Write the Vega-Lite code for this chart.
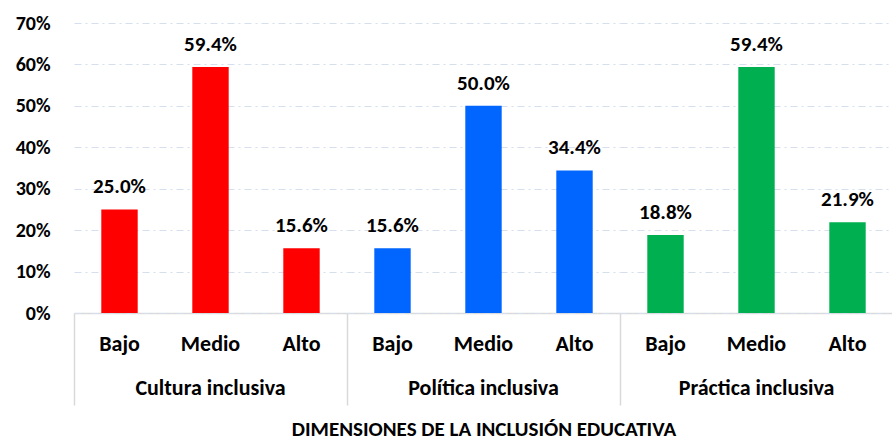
{
  "$schema": "https://vega.github.io/schema/vega-lite/v6.json",
  "background": "white",
  "padding": {"left": 15, "top": 13, "right": 0, "bottom": 0},
  "config": {"font": "Carlito, Lato", "view": {"stroke": null}},
  "data": {
    "values": [
      {"dimension": "Cultura inclusiva", "level": "Bajo", "value": 0.25},
      {"dimension": "Cultura inclusiva", "level": "Medio", "value": 0.594},
      {"dimension": "Cultura inclusiva", "level": "Alto", "value": 0.156},
      {"dimension": "Política inclusiva", "level": "Bajo", "value": 0.156},
      {"dimension": "Política inclusiva", "level": "Medio", "value": 0.5},
      {"dimension": "Política inclusiva", "level": "Alto", "value": 0.344},
      {"dimension": "Práctica inclusiva", "level": "Bajo", "value": 0.188},
      {"dimension": "Práctica inclusiva", "level": "Medio", "value": 0.594},
      {"dimension": "Práctica inclusiva", "level": "Alto", "value": 0.219}
    ]
  },
  "spacing": 0,
  "facet": {
    "column": {
      "field": "dimension",
      "type": "nominal",
      "sort": ["Cultura inclusiva", "Política inclusiva", "Práctica inclusiva"],
      "title": "DIMENSIONES DE LA INCLUSIÓN EDUCATIVA",
      "header": {
        "labelOrient": "bottom",
        "titleOrient": "bottom",
        "labelFont": "Carlito, Lato",
        "labelFontSize": 22,
        "labelFontWeight": "bold",
        "labelColor": "#000000",
        "labelPadding": -28,
        "titleFont": "Carlito, Lato",
        "titleFontSize": 21,
        "titleFontWeight": "bold",
        "titleColor": "#000000",
        "titlePadding": 3
      }
    }
  },
  "spec": {
    "width": 273,
    "height": 290,
    "encoding": {
      "x": {
        "field": "level",
        "type": "nominal",
        "sort": ["Bajo", "Medio", "Alto"],
        "scale": {"paddingInner": 0.6, "paddingOuter": 0.3},
        "axis": {
          "title": null,
          "labelAngle": 0,
          "bandPosition": -0.75,
          "ticks": true,
          "tickSize": 92,
          "tickWidth": 1.5,
          "tickColor": {"condition": {"test": "datum.value === 'Bajo'", "value": "#d9d9d9"}, "value": "transparent"},
          "domainColor": "#d9d9d9",
          "domainWidth": 1.5,
          "labelBaseline": "alphabetic",
          "labelPadding": -55,
          "labelFontSize": 22,
          "labelFontWeight": "bold",
          "labelColor": "#000000"
        }
      },
      "y": {
        "field": "value",
        "type": "quantitative",
        "scale": {"domain": [0, 0.7]},
        "axis": {
          "title": null,
          "values": [0, 0.1, 0.2, 0.3, 0.4, 0.5, 0.6, 0.7],
          "format": ".0%",
          "domain": false,
          "ticks": false,
          "grid": true,
          "gridColor": "#d6dfee",
          "gridDash": [7, 4, 2, 4],
          "gridWidth": 1.2,
          "labelPadding": 24,
          "labelFontSize": 20,
          "labelFontWeight": "bold",
          "labelColor": "#000000"
        }
      }
    },
    "layer": [
      {
        "mark": {"type": "bar"},
        "encoding": {
          "color": {
            "field": "dimension",
            "type": "nominal",
            "scale": {
              "domain": ["Cultura inclusiva", "Política inclusiva", "Práctica inclusiva"],
              "range": ["#ff0000", "#0066ff", "#00b050"]
            },
            "legend": null
          }
        }
      },
      {
        "mark": {"type": "text", "baseline": "alphabetic", "dy": -16, "fontSize": 21, "fontWeight": "bold", "color": "#000000"},
        "encoding": {
          "text": {"field": "value", "type": "quantitative", "format": ".1%"}
        }
      }
    ]
  }
}
